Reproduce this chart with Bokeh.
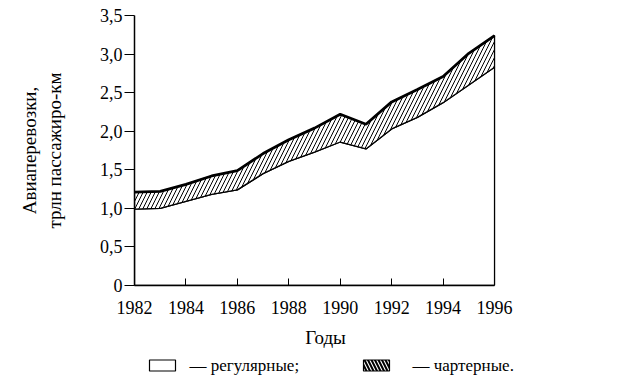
from bokeh.plotting import figure
from bokeh.models import Range1d, FixedTicker, LinearAxis
from bokeh.layouts import column
from bokeh.core.properties import value
from bokeh.embed import file_html
from bokeh.resources import INLINE

# ---- data ----
years = [1982, 1983, 1984, 1985, 1986, 1987, 1988, 1989, 1990, 1991, 1992, 1993, 1994, 1995, 1996]
total = [1.21, 1.22, 1.31, 1.42, 1.49, 1.71, 1.89, 2.04, 2.22, 2.09, 2.38, 2.54, 2.71, 3.01, 3.24]
regular = [0.99, 1.00, 1.09, 1.18, 1.24, 1.45, 1.61, 1.73, 1.86, 1.77, 2.03, 2.18, 2.37, 2.60, 2.83]
x_ticks = [1982, 1984, 1986, 1988, 1990, 1992, 1994, 1996]
y_ticks = [0, 0.5, 1.0, 1.5, 2.0, 2.5, 3.0, 3.5]
y_tick_labels = ["0", "0,5", "1,0", "1,5", "2,0", "2,5", "3,0", "3,5"]
y_title_1 = "Авиаперевозки,"
y_title_2 = "трлн пассажиро-км"
x_title = "Годы"
legend_labels = ["— регулярные;", "— чартерные."]

FONT = "Liberation Serif"

p = figure(width=622, height=322, output_backend="svg", toolbar_location=None,
           x_range=Range1d(1982, 2000.12), y_range=Range1d(0, 3.5),
           min_border_left=134, min_border_right=22, min_border_top=15, min_border_bottom=37)
p.outline_line_color = None
p.grid.visible = False
p.background_fill_color = "white"
p.border_fill_color = "white"

# regular (white) area
reg_x = [years[0]] + years + [years[-1]]
reg_y = [0] + regular + [0]
p.patch(reg_x, reg_y, fill_color="white", line_color="black", line_width=1.3)

# charter (hatched) band
ch_x = years + years[::-1]
ch_y = total + regular[::-1]
p.patch(ch_x, ch_y, fill_color="white", line_color="black", line_width=1.3,
        hatch_pattern="/", hatch_color="black", hatch_scale=8, hatch_weight=1)

p.line(years, total, line_color="black", line_width=2.8)

# axes
p.xaxis.ticker = FixedTicker(ticks=x_ticks)
p.xaxis.bounds = (years[0], years[-1])
p.xaxis.major_label_overrides = {t: str(t) for t in x_ticks}
p.xaxis.major_tick_in = 7
p.xaxis.major_tick_out = 0
p.xaxis.minor_tick_line_color = None
p.xaxis.major_label_standoff = 15
p.yaxis.ticker = FixedTicker(ticks=y_ticks)
p.yaxis.major_label_overrides = {t: l for t, l in zip(y_ticks, y_tick_labels)}
p.yaxis.major_tick_in = 0
p.yaxis.major_tick_out = 10
p.yaxis.minor_tick_line_color = None
p.yaxis.major_label_standoff = 2
p.yaxis.axis_label = y_title_2
p.yaxis.axis_label_standoff = 32
for ax in (p.xaxis, p.yaxis):
    ax.axis_line_color = "black"
    ax.axis_line_width = 1.5
    ax.major_tick_line_color = "black"
    ax.major_tick_line_width = 1
    ax.major_label_text_font = FONT
    ax.major_label_text_font_size = "18px"
    ax.major_label_text_color = "black"
    ax.axis_label_text_font = FONT
    ax.axis_label_text_font_size = "19px"
    ax.axis_label_text_font_style = "normal"
    ax.axis_label_text_color = "black"

# outer left axis carrying only the first line of the y title
ax2 = LinearAxis(ticker=FixedTicker(ticks=[]), axis_line_color=None,
                 major_tick_line_color=None, minor_tick_line_color=None,
                 major_tick_out=0, major_tick_in=0, major_label_standoff=0,
                 axis_label=y_title_1, axis_label_standoff=1,
                 axis_label_text_font=FONT, axis_label_text_font_size="19px",
                 axis_label_text_font_style="normal", axis_label_text_color="black")
p.add_layout(ax2, "left")

# strip below the chart: x title and legend (data units = page pixels)
lg = figure(width=622, height=56, output_backend="svg", toolbar_location=None,
            x_range=Range1d(134, 600), y_range=Range1d(378, 322),
            x_axis_type=None, y_axis_type=None, min_border=0)
lg.outline_line_color = None
lg.grid.visible = False
lg.text(x=[325], y=[337], text=[x_title], text_font=value(FONT), text_font_size="19px",
        text_align="center", text_baseline="middle", text_color="black")
lg.rect(x=[162], y=[365], width=26, height=11, fill_color="white",
        line_color="black", line_width=1.2)
lg.rect(x=[376], y=[365], width=26, height=11, fill_color="white",
        line_color="black", line_width=1.2, hatch_pattern="\\", hatch_color="black",
        hatch_scale=7, hatch_weight=2)
lg.text(x=[189, 412], y=[365, 365], text=legend_labels, text_font=value(FONT),
        text_font_size="17px", text_align="left", text_baseline="middle", text_color="black")

layout = column(p, lg, spacing=0)
open("out.html", "w").write(file_html(layout, INLINE))
